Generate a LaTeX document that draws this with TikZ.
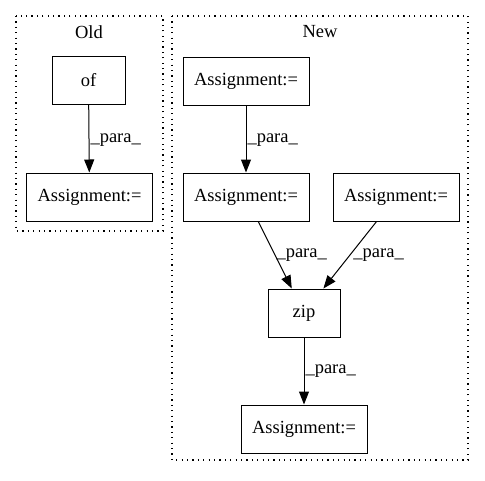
\documentclass[tikz,border=0pt]{standalone}
\usepackage{fontspec}
\setmainfont{Liberation Serif}
\usetikzlibrary{arrows.meta}
\tikzset{
  box/.style={draw=black, line width=1pt, inner sep=0pt, minimum height=48pt, font=\fontsize{18.5}{22}\selectfont},
  wbox/.style={box, minimum width=126pt},
  nbox/.style={box, minimum width=73pt},
  clus/.style={draw=black, line width=1.2pt, dash pattern=on 1.2pt off 4.2pt},
  ctitle/.style={font=\fontsize{18.5}{22}\selectfont},
  edge/.style={draw=black, line width=1pt, -{Triangle[length=13pt, width=10pt]}},
  lab/.style={font=\fontsize{18.5}{22}\selectfont, inner sep=1pt},
}

\begin{document}
\begin{tikzpicture}[x=1pt, y=-1pt]
  \useasboundingbox (0,0) rectangle (485,480);

  % clusters
  \draw[clus] (16,16) rectangle (163,231);
  \draw[clus] (172,16) rectangle (468,460);
  \node[ctitle] (told) at (89,32) {Old};
  \node[ctitle] (tnew) at (320,32) {New};

  \node[nbox] (of) at (88.5,80.5) {of};
  \node[wbox] (oldasg) at (89.5,197) {Assignment:=};

  \node[wbox] (asgA) at (246,81) {Assignment:=};
  \node[wbox] (asgB) at (246,197) {Assignment:=};
  \node[wbox] (asgC) at (396,197) {Assignment:=};
  \node[nbox, minimum width=72pt] (zip) at (304,313) {zip};
  \node[wbox] (asgD) at (304,429) {Assignment:=};

  \draw[edge] (of) -- node[lab, right, pos=0.52] {\_para\_} (oldasg);
  \draw[edge] (asgA) -- node[lab, right, pos=0.52] {\_para\_} (asgB);
  \draw[edge] (asgB) -- node[lab, right, pos=0.5] {\_para\_} (zip);
  \draw[edge] (asgC) -- node[lab, right, pos=0.5, xshift=2pt] {\_para\_} (zip);
  \draw[edge] (zip) -- node[lab, right, pos=0.5] {\_para\_} (asgD);
\end{tikzpicture}
\end{document}
